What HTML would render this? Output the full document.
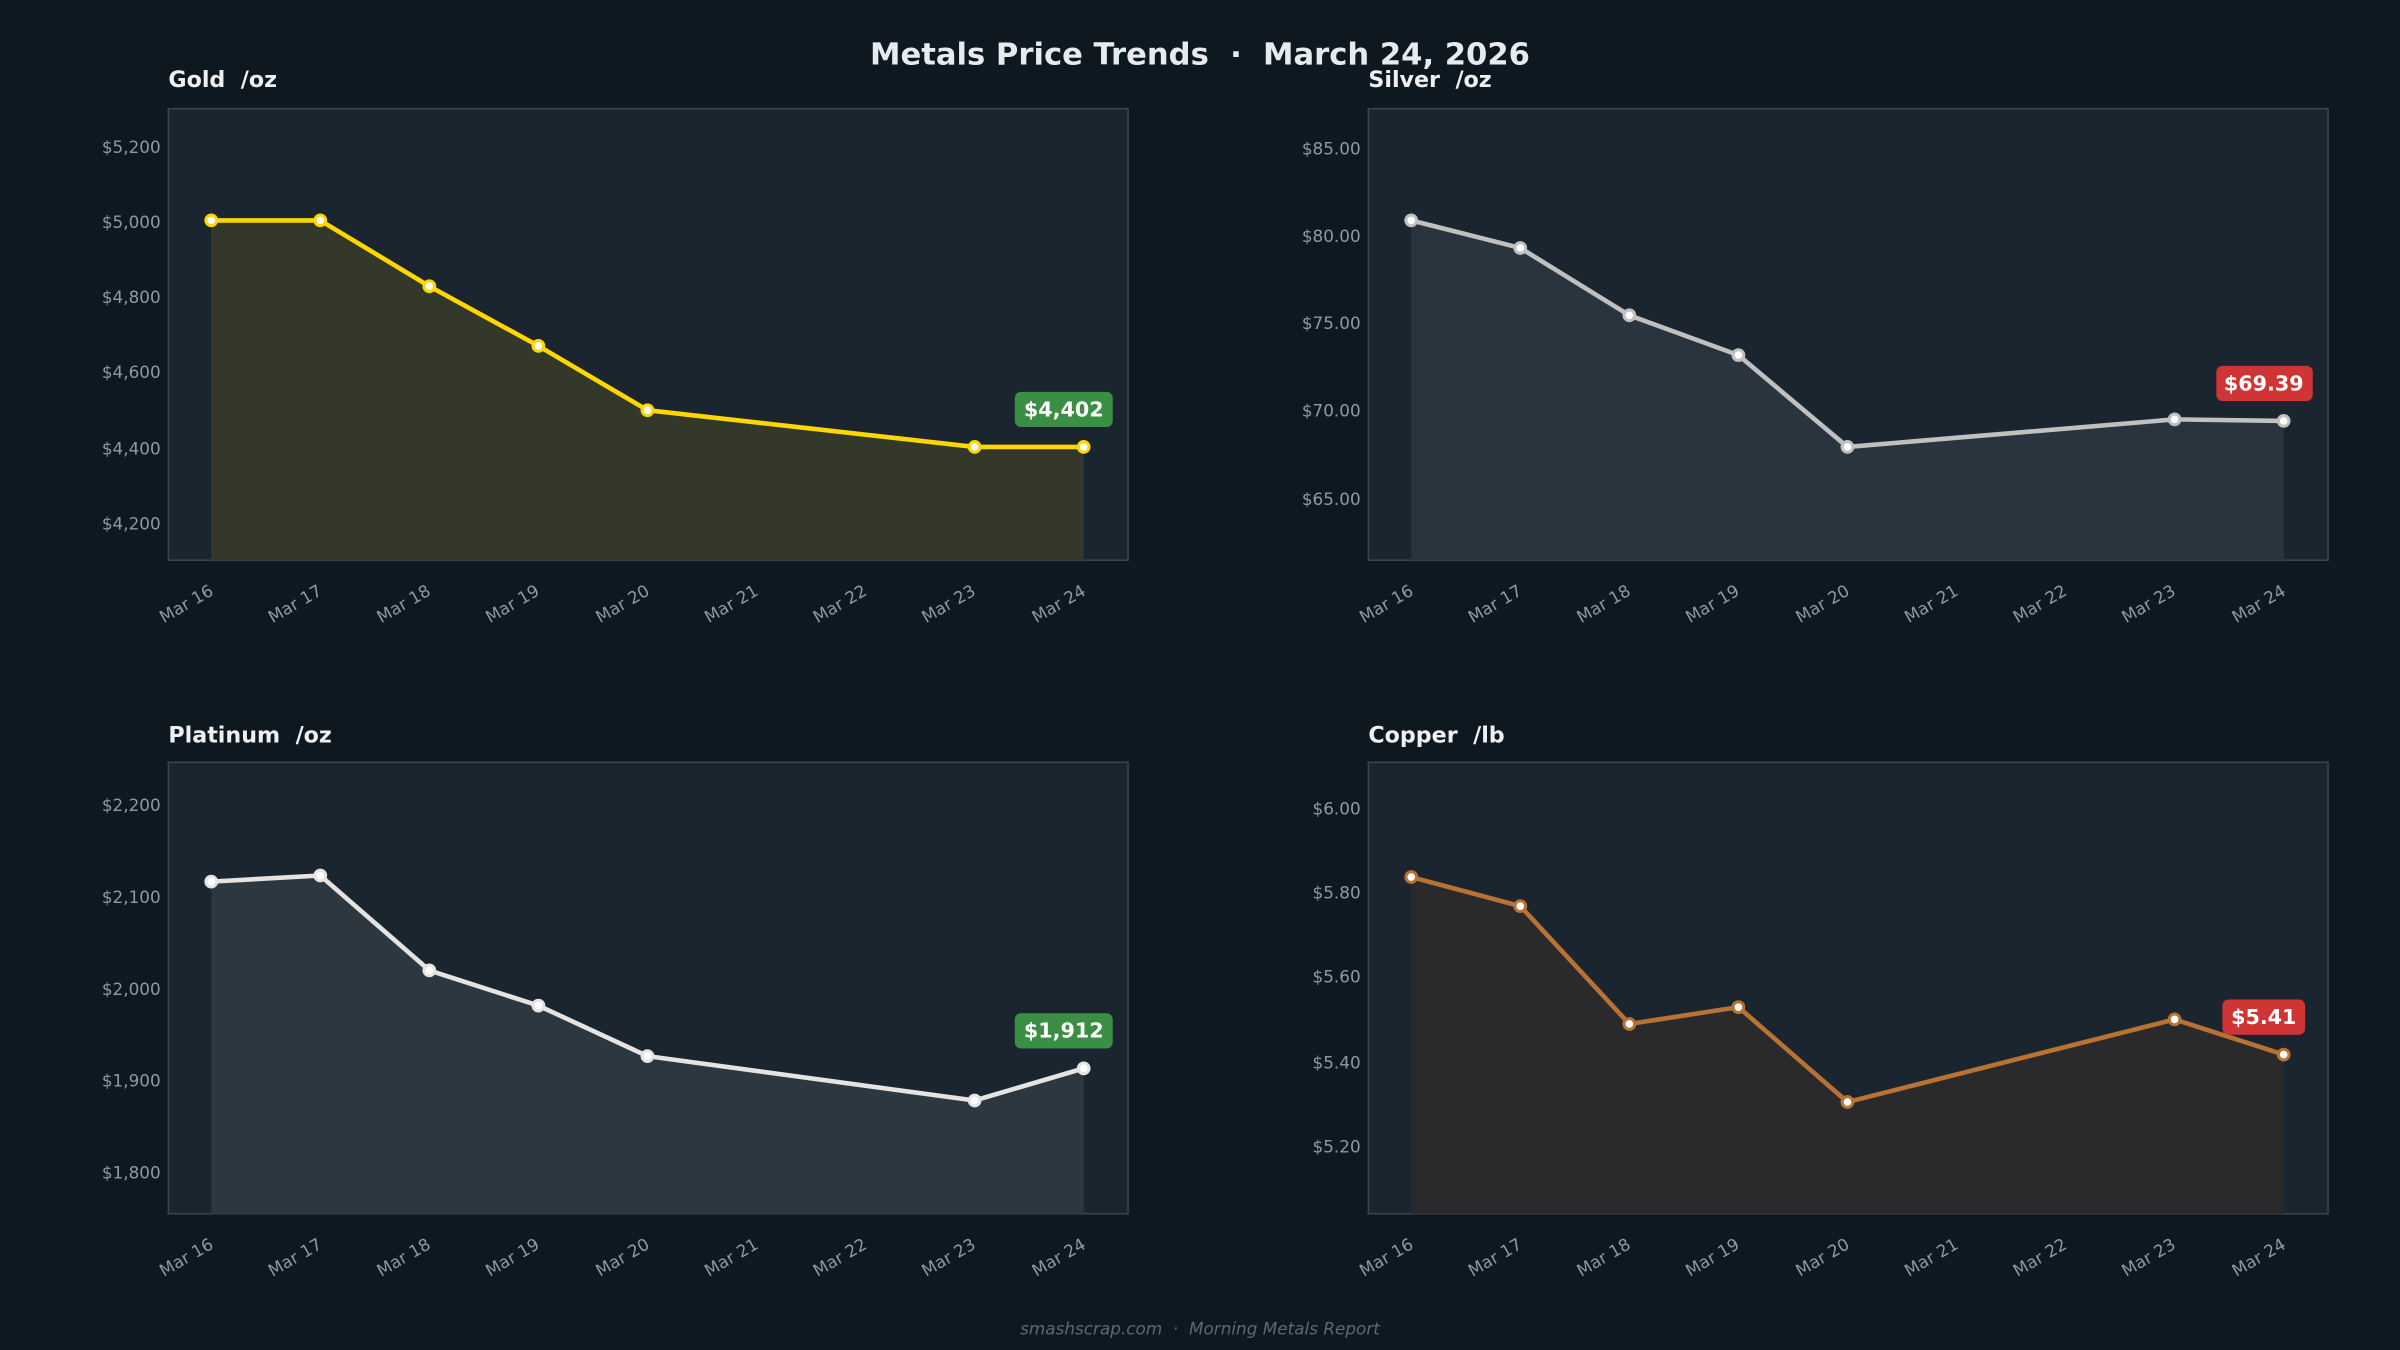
<!DOCTYPE html>
<html><head><meta charset="utf-8"><style>
html,body{margin:0;padding:0;background:#0e1821;}
svg{display:block;font-family:"DejaVu Sans","Liberation Sans",sans-serif;}
svg text{white-space:pre;}
.yt{fill:#8f99a3;font-size:11px;text-anchor:end;}
.xt{fill:#8f99a3;font-size:11px;text-anchor:end;}
.pt{fill:#eef0f2;font-size:14.5px;font-weight:bold;}
.bd{fill:#fff;font-size:13.5px;font-weight:bold;text-anchor:middle;}
</style></head><body>
<svg width="2400" height="1350" viewBox="0 0 1568 882" xmlns="http://www.w3.org/2000/svg" xml:space="preserve">
<rect width="1568" height="882" fill="#0e1821"/>
<text x="784" y="42" text-anchor="middle" fill="#e8ebee" font-size="20" font-weight="bold">Metals Price Trends  ·  March 24, 2026</text>
<text x="784" y="872" text-anchor="middle" fill="#5d6872" font-size="11" font-style="italic">smashscrap.com  ·  Morning Metals Report</text>

<!-- GOLD -->
<g>
<text class="pt" x="110" y="57">Gold  /oz</text>
<rect x="110" y="71" width="627" height="295" fill="#1b2530" stroke="#3b4651" stroke-width="1"/>
<polygon points="138,366 138,144 209.25,144 280.5,187 351.75,226 423,268 636.75,292 708,292 708,366" fill="#33382a"/>
<polyline points="138,144 209.25,144 280.5,187 351.75,226 423,268 636.75,292 708,292" fill="none" stroke="#ffd700" stroke-width="3" stroke-linejoin="round"/>
<g fill="#fff" stroke="#ffd700" stroke-width="2"><circle cx="138" cy="144" r="3.5"/><circle cx="209.25" cy="144" r="3.5"/><circle cx="280.5" cy="187" r="3.5"/><circle cx="351.75" cy="226" r="3.5"/><circle cx="423" cy="268" r="3.5"/><circle cx="636.75" cy="292" r="3.5"/><circle cx="708" cy="292" r="3.5"/></g>
<text class="yt" x="105" y="100">$5,200</text><text class="yt" x="105" y="149">$5,000</text><text class="yt" x="105" y="198">$4,800</text><text class="yt" x="105" y="247">$4,600</text><text class="yt" x="105" y="297">$4,400</text><text class="yt" x="105" y="346">$4,200</text>
<rect x="663" y="256" width="64" height="23" rx="4" fill="#3a8f45"/><text class="bd" x="695" y="272">$4,402</text>
<text class="xt" transform="translate(136,381) rotate(-30)" dy="0.75em">Mar 16</text>
<text class="xt" transform="translate(207,381) rotate(-30)" dy="0.75em">Mar 17</text>
<text class="xt" transform="translate(278,381) rotate(-30)" dy="0.75em">Mar 18</text>
<text class="xt" transform="translate(349,381) rotate(-30)" dy="0.75em">Mar 19</text>
<text class="xt" transform="translate(421,381) rotate(-30)" dy="0.75em">Mar 20</text>
<text class="xt" transform="translate(492,381) rotate(-30)" dy="0.75em">Mar 21</text>
<text class="xt" transform="translate(563,381) rotate(-30)" dy="0.75em">Mar 22</text>
<text class="xt" transform="translate(634,381) rotate(-30)" dy="0.75em">Mar 23</text>
<text class="xt" transform="translate(706,381) rotate(-30)" dy="0.75em">Mar 24</text>
</g>

<!-- SILVER -->
<g transform="translate(784,0)">
<text class="pt" x="110" y="57">Silver  /oz</text>
<rect x="110" y="71" width="627" height="295" fill="#1b2530" stroke="#3b4651" stroke-width="1"/>
<polygon points="138,366 138,144 209.25,162 280.5,206 351.75,232 423,292 636.75,274 708,275 708,366" fill="#29343f"/>
<polyline points="138,144 209.25,162 280.5,206 351.75,232 423,292 636.75,274 708,275" fill="none" stroke="#c0c0c0" stroke-width="3" stroke-linejoin="round"/>
<g fill="#fff" stroke="#c0c0c0" stroke-width="2"><circle cx="138" cy="144" r="3.5"/><circle cx="209.25" cy="162" r="3.5"/><circle cx="280.5" cy="206" r="3.5"/><circle cx="351.75" cy="232" r="3.5"/><circle cx="423" cy="292" r="3.5"/><circle cx="636.75" cy="274" r="3.5"/><circle cx="708" cy="275" r="3.5"/></g>
<text class="yt" x="105" y="101">$85.00</text><text class="yt" x="105" y="158">$80.00</text><text class="yt" x="105" y="215">$75.00</text><text class="yt" x="105" y="272">$70.00</text><text class="yt" x="105" y="330">$65.00</text>
<rect x="664" y="239" width="63" height="23" rx="4" fill="#cf3535"/><text class="bd" x="695" y="255">$69.39</text>
<text class="xt" transform="translate(136,381) rotate(-30)" dy="0.75em">Mar 16</text>
<text class="xt" transform="translate(207,381) rotate(-30)" dy="0.75em">Mar 17</text>
<text class="xt" transform="translate(278,381) rotate(-30)" dy="0.75em">Mar 18</text>
<text class="xt" transform="translate(349,381) rotate(-30)" dy="0.75em">Mar 19</text>
<text class="xt" transform="translate(421,381) rotate(-30)" dy="0.75em">Mar 20</text>
<text class="xt" transform="translate(492,381) rotate(-30)" dy="0.75em">Mar 21</text>
<text class="xt" transform="translate(563,381) rotate(-30)" dy="0.75em">Mar 22</text>
<text class="xt" transform="translate(634,381) rotate(-30)" dy="0.75em">Mar 23</text>
<text class="xt" transform="translate(706,381) rotate(-30)" dy="0.75em">Mar 24</text>
</g>

<!-- PLATINUM -->
<g transform="translate(0,427)">
<text class="pt" x="110" y="58">Platinum  /oz</text>
<rect x="110" y="71" width="627" height="295" fill="#1b2530" stroke="#3b4651" stroke-width="1"/>
<polygon points="138,366 138,149 209.25,145 280.5,207 351.75,230 423,263 636.75,292 708,271 708,366" fill="#2c3740"/>
<polyline points="138,149 209.25,145 280.5,207 351.75,230 423,263 636.75,292 708,271" fill="none" stroke="#e5e4e2" stroke-width="3" stroke-linejoin="round"/>
<g fill="#fff" stroke="#e5e4e2" stroke-width="2"><circle cx="138" cy="149" r="3.5"/><circle cx="209.25" cy="145" r="3.5"/><circle cx="280.5" cy="207" r="3.5"/><circle cx="351.75" cy="230" r="3.5"/><circle cx="423" cy="263" r="3.5"/><circle cx="636.75" cy="292" r="3.5"/><circle cx="708" cy="271" r="3.5"/></g>
<text class="yt" x="105" y="103">$2,200</text><text class="yt" x="105" y="163">$2,100</text><text class="yt" x="105" y="223">$2,000</text><text class="yt" x="105" y="283">$1,900</text><text class="yt" x="105" y="343">$1,800</text>
<rect x="663" y="235" width="64" height="23" rx="4" fill="#3a8f45"/><text class="bd" x="695" y="251">$1,912</text>
<text class="xt" transform="translate(136,381) rotate(-30)" dy="0.75em">Mar 16</text>
<text class="xt" transform="translate(207,381) rotate(-30)" dy="0.75em">Mar 17</text>
<text class="xt" transform="translate(278,381) rotate(-30)" dy="0.75em">Mar 18</text>
<text class="xt" transform="translate(349,381) rotate(-30)" dy="0.75em">Mar 19</text>
<text class="xt" transform="translate(421,381) rotate(-30)" dy="0.75em">Mar 20</text>
<text class="xt" transform="translate(492,381) rotate(-30)" dy="0.75em">Mar 21</text>
<text class="xt" transform="translate(563,381) rotate(-30)" dy="0.75em">Mar 22</text>
<text class="xt" transform="translate(634,381) rotate(-30)" dy="0.75em">Mar 23</text>
<text class="xt" transform="translate(706,381) rotate(-30)" dy="0.75em">Mar 24</text>
</g>

<!-- COPPER -->
<g transform="translate(784,427)">
<text class="pt" x="110" y="58">Copper  /lb</text>
<rect x="110" y="71" width="627" height="295" fill="#1b2530" stroke="#3b4651" stroke-width="1"/>
<polygon points="138,366 138,146 209.25,165 280.5,242 351.75,231 423,293 636.75,239 708,262 708,366" fill="#2a2a2d"/>
<polyline points="138,146 209.25,165 280.5,242 351.75,231 423,293 636.75,239 708,262" fill="none" stroke="#b87333" stroke-width="3" stroke-linejoin="round"/>
<g fill="#fff" stroke="#b87333" stroke-width="2"><circle cx="138" cy="146" r="3.5"/><circle cx="209.25" cy="165" r="3.5"/><circle cx="280.5" cy="242" r="3.5"/><circle cx="351.75" cy="231" r="3.5"/><circle cx="423" cy="293" r="3.5"/><circle cx="636.75" cy="239" r="3.5"/><circle cx="708" cy="262" r="3.5"/></g>
<text class="yt" x="105" y="105">$6.00</text><text class="yt" x="105" y="160">$5.80</text><text class="yt" x="105" y="215">$5.60</text><text class="yt" x="105" y="271">$5.40</text><text class="yt" x="105" y="326">$5.20</text>
<rect x="668" y="226" width="54" height="23" rx="4" fill="#cf3535"/><text class="bd" x="695" y="242">$5.41</text>
<text class="xt" transform="translate(136,381) rotate(-30)" dy="0.75em">Mar 16</text>
<text class="xt" transform="translate(207,381) rotate(-30)" dy="0.75em">Mar 17</text>
<text class="xt" transform="translate(278,381) rotate(-30)" dy="0.75em">Mar 18</text>
<text class="xt" transform="translate(349,381) rotate(-30)" dy="0.75em">Mar 19</text>
<text class="xt" transform="translate(421,381) rotate(-30)" dy="0.75em">Mar 20</text>
<text class="xt" transform="translate(492,381) rotate(-30)" dy="0.75em">Mar 21</text>
<text class="xt" transform="translate(563,381) rotate(-30)" dy="0.75em">Mar 22</text>
<text class="xt" transform="translate(634,381) rotate(-30)" dy="0.75em">Mar 23</text>
<text class="xt" transform="translate(706,381) rotate(-30)" dy="0.75em">Mar 24</text>
</g>
</svg>
</body></html>
